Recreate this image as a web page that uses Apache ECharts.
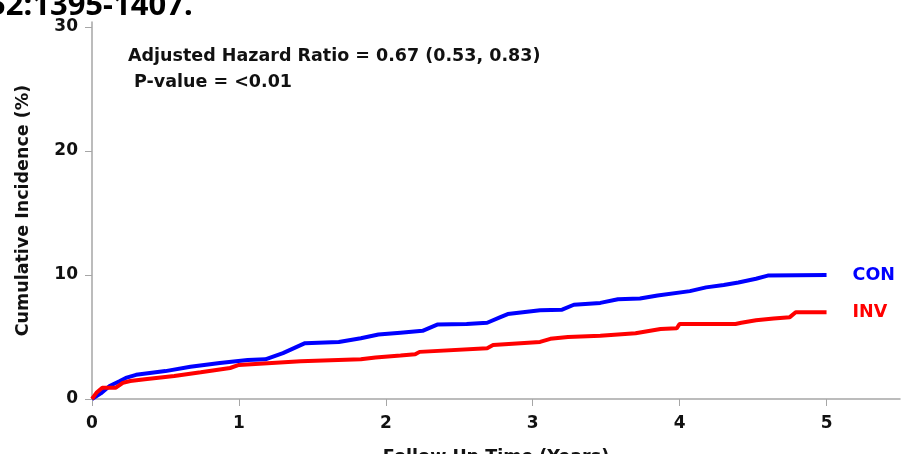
<!DOCTYPE html>
<html>
<head>
<meta charset="utf-8">
<script src="https://cdn.jsdelivr.net/npm/echarts@6/dist/echarts.min.js"></script>
<style>
  html, body { margin: 0; padding: 0; background: #fff; }
  #chart { width: 912px; height: 454px; }
</style>
</head>
<body>
<div id="chart"></div>
<script>
// years of follow-up, cumulative incidence (%)
const conTime = [0, 0.06, 0.12, 0.19, 0.23, 0.3, 0.5, 0.67, 0.87, 1.06, 1.18, 1.3, 1.45, 1.68, 1.83, 1.95, 2.1, 2.25, 2.35, 2.55, 2.69, 2.78, 2.83, 3.05, 3.2, 3.28, 3.46, 3.58, 3.73, 3.85, 4.07, 4.18, 4.3, 4.4, 4.52, 4.6, 5.0];
const conValue = [0, 0.45, 1.05, 1.45, 1.7, 1.95, 2.25, 2.6, 2.9, 3.15, 3.2, 3.7, 4.5, 4.6, 4.9, 5.2, 5.35, 5.5, 6.0, 6.05, 6.15, 6.6, 6.85, 7.15, 7.2, 7.6, 7.75, 8.05, 8.1, 8.35, 8.7, 9.0, 9.2, 9.4, 9.7, 9.95, 10.0];
const invTime = [0, 0.03, 0.07, 0.16, 0.21, 0.26, 0.36, 0.56, 0.74, 0.94, 1.0, 1.42, 1.83, 1.93, 2.1, 2.2, 2.23, 2.69, 2.73, 3.05, 3.12, 3.24, 3.46, 3.7, 3.87, 3.98, 4.0, 4.38, 4.42, 4.52, 4.64, 4.75, 4.79, 5.0];
const invValue = [0, 0.5, 0.9, 0.9, 1.3, 1.45, 1.6, 1.85, 2.15, 2.5, 2.75, 3.05, 3.2, 3.35, 3.5, 3.6, 3.8, 4.1, 4.35, 4.6, 4.85, 5.0, 5.1, 5.3, 5.65, 5.7, 6.05, 6.05, 6.15, 6.35, 6.5, 6.6, 7.0, 7.0];
const xTicks = [0, 1, 2, 3, 4, 5];
const yTicks = [0, 10, 20, 30];

const chart = echarts.init(document.getElementById('chart'));
const axisGray = '#a6a6a6';
const labelFont = { color: '#111', fontFamily: 'DejaVu Sans', fontWeight: 'bold', fontSize: 17 };
const nameFont = { color: '#111', fontFamily: 'DejaVu Sans', fontWeight: 'bold', fontSize: 17.5 };

const pairs = (t, v) => t.map((x, i) => [x, v[i]]);

const option = {
  animation: false,
  grid: { left: 92, right: 12, top: 22, bottom: 55, outerBoundsMode: 'none' },
  xAxis: {
    type: 'value',
    min: 0,
    max: 5.5,
    name: 'Follow Up Time (Years)',
    nameLocation: 'middle',
    nameGap: 49,
    nameTextStyle: nameFont,
    splitLine: { show: false },
    axisLine: { lineStyle: { color: axisGray, width: 1.5 } },
    axisTick: { length: 7, lineStyle: { color: axisGray }, customValues: xTicks },
    axisLabel: Object.assign({ margin: 16, customValues: xTicks }, labelFont)
  },
  yAxis: {
    type: 'value',
    min: 0,
    max: 30.4,
    name: 'Cumulative Incidence (%)',
    nameLocation: 'middle',
    nameGap: 60,
    nameTextStyle: nameFont,
    splitLine: { show: false },
    axisLine: { show: true, lineStyle: { color: axisGray, width: 1.5 } },
    axisTick: { show: true, length: 7, lineStyle: { color: axisGray }, customValues: yTicks },
    axisLabel: Object.assign({ margin: 14, customValues: yTicks }, labelFont)
  },
  graphic: [
    { type: 'text', left: -12, top: -9, style: { text: '52:1395-1407.', font: 'bold 31px "Noto Sans"', fill: '#000' } },
    { type: 'text', left: 128, top: 47, style: { text: 'Adjusted Hazard Ratio = 0.67 (0.53, 0.83)', font: 'bold 17.5px "DejaVu Sans"', fill: '#111' } },
    { type: 'text', left: 134, top: 73, style: { text: 'P-value = <0.01', font: 'bold 17.5px "DejaVu Sans"', fill: '#111' } }
  ],
  series: [
    {
      name: 'CON',
      type: 'line',
      symbol: 'none',
      data: pairs(conTime, conValue),
      lineStyle: { color: '#0000ff', width: 4 },
      endLabel: { show: true, formatter: 'CON', distance: 26, color: '#0000ff', fontFamily: 'DejaVu Sans', fontWeight: 'bold', fontSize: 17.5 }
    },
    {
      name: 'INV',
      type: 'line',
      symbol: 'none',
      data: pairs(invTime, invValue),
      lineStyle: { color: '#ff0000', width: 4 },
      endLabel: { show: true, formatter: 'INV', distance: 26, color: '#ff0000', fontFamily: 'DejaVu Sans', fontWeight: 'bold', fontSize: 17.5 }
    }
  ]
};

chart.setOption(option);
</script>
</body>
</html>
